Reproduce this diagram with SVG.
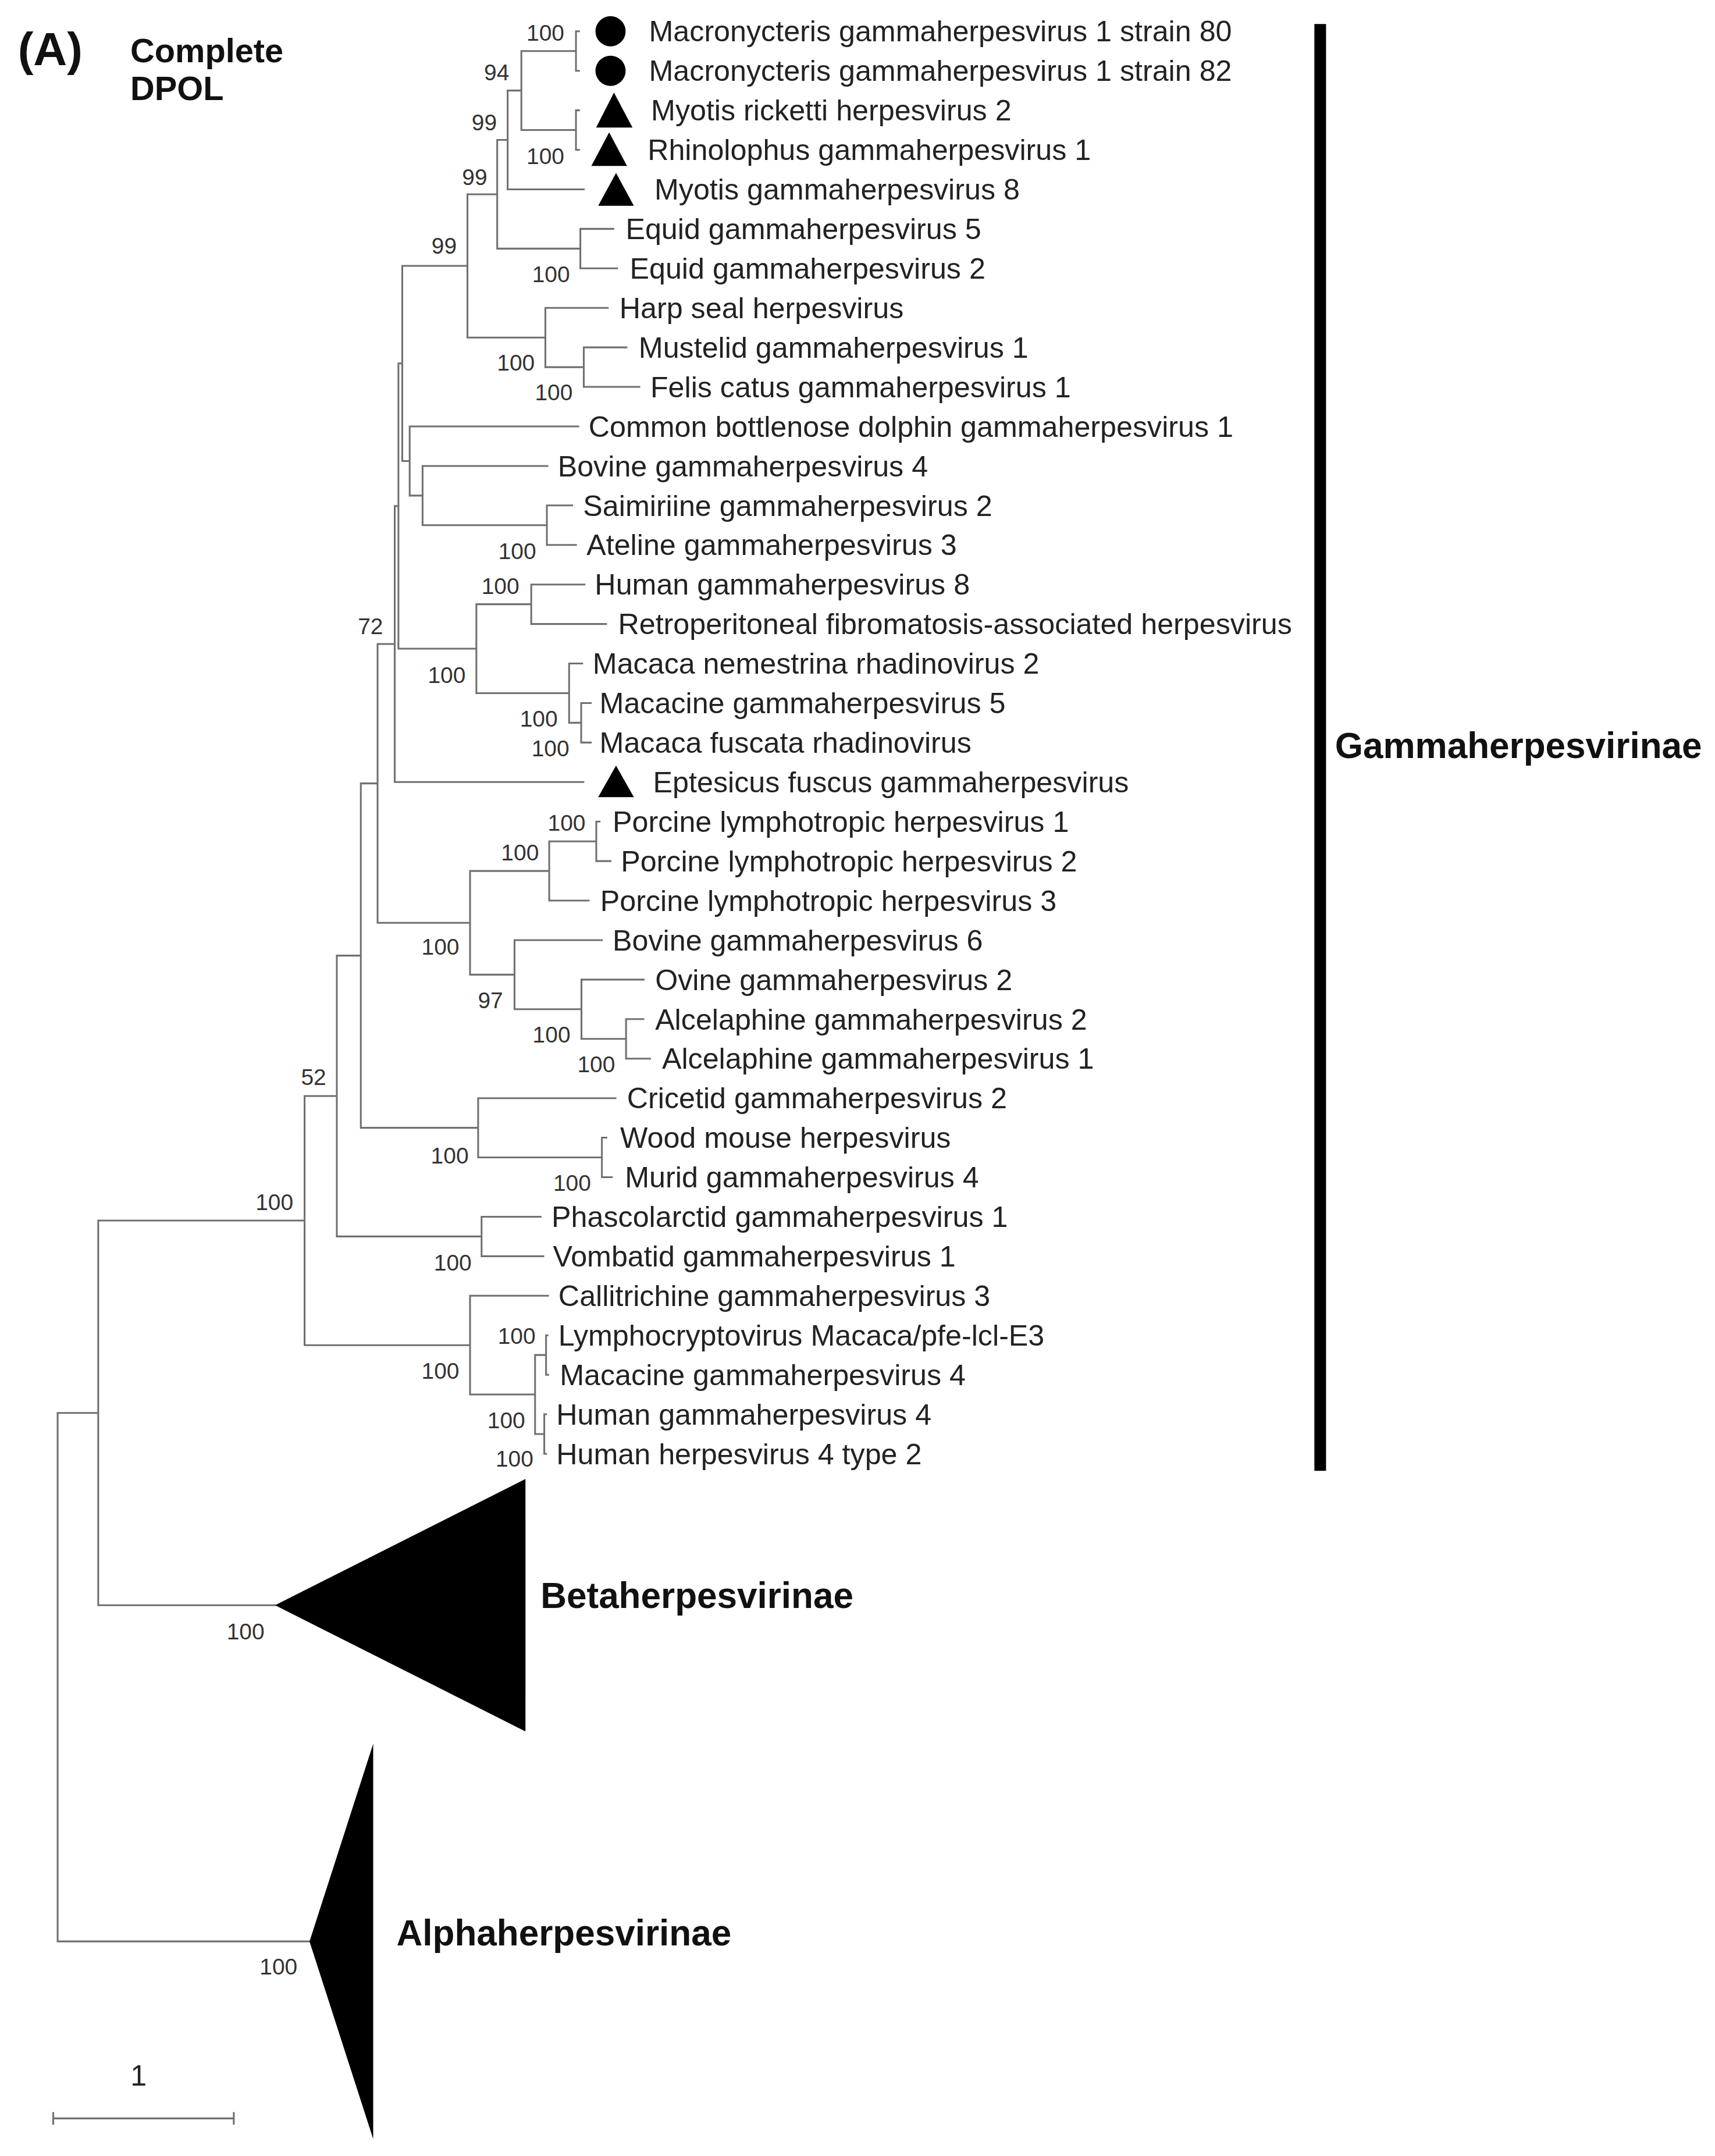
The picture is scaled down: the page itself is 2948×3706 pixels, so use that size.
<svg xmlns="http://www.w3.org/2000/svg" width="2948" height="3706" viewBox="0 0 2948 3706">
<style>
.br{fill:none;stroke:#707070;stroke-width:1.3;stroke-linecap:square}
.lf{font-family:"Liberation Sans",Arial,sans-serif;font-size:21.3px;fill:#222}
.bs{font-family:"Liberation Sans",Arial,sans-serif;font-size:16.5px;fill:#333;text-anchor:middle}
.hd{font-family:"Liberation Sans",Arial,sans-serif;font-weight:bold;fill:#111}
.mk{fill:#000}
</style>
<rect width="2948" height="3706" fill="#fff"/>
<g transform="scale(2.3584)">
<g id="connectors">
<path class="br" d="M42 1029.8V1415M42 1029.8H71.6M42 1415H225.6
M71.6 889.6V1170M71.6 889.6H222M71.6 1170H200.5
M222 798.85V980.4M222 798.85H245.5M222 980.4H342.6
M245.5 696.5V901.2M245.5 696.5H263M245.5 901.2H351
M263 571V822M263 571H275.2M263 822H348.5
M275.2 469.4V672.6M275.2 469.4H287.7M275.2 672.6H342.6
M287.7 368.85V570M287.7 368.85H290.4M287.7 570H425.2
M290.4 264.9V472.8M290.4 264.9H293.2M290.4 472.8H347.2
M293.2 193.8V336M293.2 193.8H340.7M293.2 336H298.6
M298.6 310.8V361.2M298.6 310.8H421.5M298.6 361.2H308
M308 339.6V382.8M308 339.6H399M308 382.8H398.6
M398.6 368.4V397.2M398.6 368.4H417M398.6 397.2H419.8
M340.7 141.6V246M340.7 141.6H362.4M340.7 246H397.5
M362.4 102V181.2M362.4 102H370M362.4 181.2H423
M370 66V138M370 66H380M370 138H425.5
M380 37.2V94.8M380 37.2H419.8M380 94.8H419.8
M419.8 22.8V51.6M419.8 22.8H422M419.8 51.6H422
M419.8 80.4V109.2M419.8 80.4H422M419.8 109.2H422
M423 166.8V195.6M423 166.8H447M423 195.6H449.8
M397.5 224.4V267.6M397.5 224.4H443M397.5 267.6H425.5
M425.5 253.2V282M425.5 253.2H456.6M425.5 282H466
M347.2 440.4V505.2M347.2 440.4H387.2M347.2 505.2H414.8
M387.2 426V454.8M387.2 426H426M387.2 454.8H441.8
M414.8 483.6V526.8M414.8 483.6H424.3M414.8 526.8H423.6
M423.6 512.4V541.2M423.6 512.4H430.6M423.6 541.2H430.6
M342.6 634.8V710.4M342.6 634.8H400.3M342.6 710.4H375
M400.3 613.2V656.4M400.3 613.2H434.6M400.3 656.4H429
M434.6 598.8V627.6M434.6 598.8H437M434.6 627.6H445
M375 685.2V735.6M375 685.2H438.7M375 735.6H423.8
M423.8 714V757.2M423.8 714H469.2M423.8 757.2H456.3
M456.3 742.8V771.6M456.3 742.8H469M456.3 771.6H473.8
M348.5 800.4V843.6M348.5 800.4H448.6M348.5 843.6H438.7
M438.7 829.2V858M438.7 829.2H442M438.7 858H446
M351 886.8V915.6M351 886.8H394M351 915.6H396
M342.6 944.4V1016.4M342.6 944.4H399.5M342.6 1016.4H390
M390 987.6V1045.2M390 987.6H398M390 1045.2H396.7
M398 973.2V1002M398 973.2H399M398 1002H399.5
M396.7 1030.8V1059.6M396.7 1030.8H398M396.7 1059.6H398"/>
</g>
<g id="bootstrap">
<text class="bs" x="397.5" y="29.7">100</text>
<text class="bs" x="362" y="58.6">94</text>
<text class="bs" x="353" y="95">99</text>
<text class="bs" x="397.5" y="119.6">100</text>
<text class="bs" x="346" y="134.7">99</text>
<text class="bs" x="323.7" y="185">99</text>
<text class="bs" x="401.6" y="205.7">100</text>
<text class="bs" x="376" y="270">100</text>
<text class="bs" x="403.6" y="291.8">100</text>
<text class="bs" x="377" y="407.6">100</text>
<text class="bs" x="364.7" y="433">100</text>
<text class="bs" x="270" y="462">72</text>
<text class="bs" x="325.6" y="498">100</text>
<text class="bs" x="392.7" y="529.6">100</text>
<text class="bs" x="401.2" y="551.3">100</text>
<text class="bs" x="413" y="605.6">100</text>
<text class="bs" x="379" y="627.3">100</text>
<text class="bs" x="321" y="696">100</text>
<text class="bs" x="357.5" y="735">97</text>
<text class="bs" x="402" y="759.8">100</text>
<text class="bs" x="434.6" y="781.5">100</text>
<text class="bs" x="228.6" y="791">52</text>
<text class="bs" x="327.8" y="848">100</text>
<text class="bs" x="417" y="868">100</text>
<text class="bs" x="200" y="882">100</text>
<text class="bs" x="330" y="926">100</text>
<text class="bs" x="376.6" y="979.6">100</text>
<text class="bs" x="321" y="1005">100</text>
<text class="bs" x="369" y="1041">100</text>
<text class="bs" x="375" y="1069">100</text>
<text class="bs" x="179" y="1195">100</text>
<text class="bs" x="203" y="1439">100</text>
</g>
<g id="title">
<text class="hd" x="13" y="47.3" font-size="34">(A)</text>
<text class="hd" x="95" y="45.5" font-size="24.5">Complete</text>
<text class="hd" x="95" y="73" font-size="24.5">DPOL</text>
</g>
<g id="leaf01"><circle class="mk" cx="445" cy="22.8" r="11"/><text class="lf" x="473" y="30.3">Macronycteris gammaherpesvirus 1 strain 80</text></g>
<g id="leaf02"><circle class="mk" cx="445" cy="51.6" r="11"/><text class="lf" x="473" y="59.1">Macronycteris gammaherpesvirus 1 strain 82</text></g>
<g id="leaf03"><polygon class="mk" points="447.5,67.5 434.5,93 461,93"/><text class="lf" x="474.5" y="87.9">Myotis ricketti herpesvirus 2</text></g>
<g id="leaf04"><polygon class="mk" points="444,96.5 431,121 457,121"/><text class="lf" x="472" y="116.7">Rhinolophus gammaherpesvirus 1</text></g>
<g id="leaf05"><polygon class="mk" points="449,126 436,150 462,150"/><text class="lf" x="477" y="145.5">Myotis gammaherpesvirus 8</text></g>
<g id="leaf06"><text class="lf" x="456" y="174.3">Equid gammaherpesvirus 5</text></g>
<g id="leaf07"><text class="lf" x="459" y="203.1">Equid gammaherpesvirus 2</text></g>
<g id="leaf08"><text class="lf" x="451.5" y="231.9">Harp seal herpesvirus</text></g>
<g id="leaf09"><text class="lf" x="465.5" y="260.7">Mustelid gammaherpesvirus 1</text></g>
<g id="leaf10"><text class="lf" x="474" y="289.5">Felis catus gammaherpesvirus 1</text></g>
<g id="leaf11"><text class="lf" x="429" y="318.3">Common bottlenose dolphin gammaherpesvirus 1</text></g>
<g id="leaf12"><text class="lf" x="406.5" y="347.1">Bovine gammaherpesvirus 4</text></g>
<g id="leaf13"><text class="lf" x="425" y="375.9">Saimiriine gammaherpesvirus 2</text></g>
<g id="leaf14"><text class="lf" x="427.5" y="404.7">Ateline gammaherpesvirus 3</text></g>
<g id="leaf15"><text class="lf" x="433.5" y="433.5">Human gammaherpesvirus 8</text></g>
<g id="leaf16"><text class="lf" x="450.5" y="462.3">Retroperitoneal fibromatosis-associated herpesvirus</text></g>
<g id="leaf17"><text class="lf" x="432" y="491.1">Macaca nemestrina rhadinovirus 2</text></g>
<g id="leaf18"><text class="lf" x="437" y="519.9">Macacine gammaherpesvirus 5</text></g>
<g id="leaf19"><text class="lf" x="437" y="548.7">Macaca fuscata rhadinovirus</text></g>
<g id="leaf20"><polygon class="mk" points="449,558 436,581 462,581"/><text class="lf" x="476" y="577.5">Eptesicus fuscus gammaherpesvirus</text></g>
<g id="leaf21"><text class="lf" x="446.5" y="606.3">Porcine lymphotropic herpesvirus 1</text></g>
<g id="leaf22"><text class="lf" x="452.5" y="635.1">Porcine lymphotropic herpesvirus 2</text></g>
<g id="leaf23"><text class="lf" x="437.5" y="663.9">Porcine lymphotropic herpesvirus 3</text></g>
<g id="leaf24"><text class="lf" x="446.5" y="692.7">Bovine gammaherpesvirus 6</text></g>
<g id="leaf25"><text class="lf" x="477.5" y="721.5">Ovine gammaherpesvirus 2</text></g>
<g id="leaf26"><text class="lf" x="477.5" y="750.3">Alcelaphine gammaherpesvirus 2</text></g>
<g id="leaf27"><text class="lf" x="482.5" y="779.1">Alcelaphine gammaherpesvirus 1</text></g>
<g id="leaf28"><text class="lf" x="457" y="807.9">Cricetid gammaherpesvirus 2</text></g>
<g id="leaf29"><text class="lf" x="452" y="836.7">Wood mouse herpesvirus</text></g>
<g id="leaf30"><text class="lf" x="455.5" y="865.5">Murid gammaherpesvirus 4</text></g>
<g id="leaf31"><text class="lf" x="402" y="894.3">Phascolarctid gammaherpesvirus 1</text></g>
<g id="leaf32"><text class="lf" x="403" y="923.1">Vombatid gammaherpesvirus 1</text></g>
<g id="leaf33"><text class="lf" x="407" y="951.9">Callitrichine gammaherpesvirus 3</text></g>
<g id="leaf34"><text class="lf" x="407" y="980.7">Lymphocryptovirus Macaca/pfe-lcl-E3</text></g>
<g id="leaf35"><text class="lf" x="408" y="1009.5">Macacine gammaherpesvirus 4</text></g>
<g id="leaf36"><text class="lf" x="405.5" y="1038.3">Human gammaherpesvirus 4</text></g>
<g id="leaf37"><text class="lf" x="405.5" y="1067.1">Human herpesvirus 4 type 2</text></g>
<g id="gamma-clade"><rect x="958" y="17.5" width="8.5" height="1054.5" fill="#000"/><text class="hd" x="973" y="552.5" font-size="26.3">Gammaherpesvirinae</text></g>
<g id="beta-clade"><polygon class="mk" points="200.5,1170 383,1078 383,1262"/><text class="hd" x="394" y="1172" font-size="26.3">Betaherpesvirinae</text></g>
<g id="alpha-clade"><polygon class="mk" points="225.6,1415 272,1271 272,1559"/><text class="hd" x="289" y="1418" font-size="26.3">Alphaherpesvirinae</text></g>
<g id="scale-bar"><path class="br" d="M38.8 1544H170.4M38.8 1540V1548M170.4 1540V1548"/><text class="lf" x="101" y="1520" text-anchor="middle">1</text></g>
</g>
</svg>
